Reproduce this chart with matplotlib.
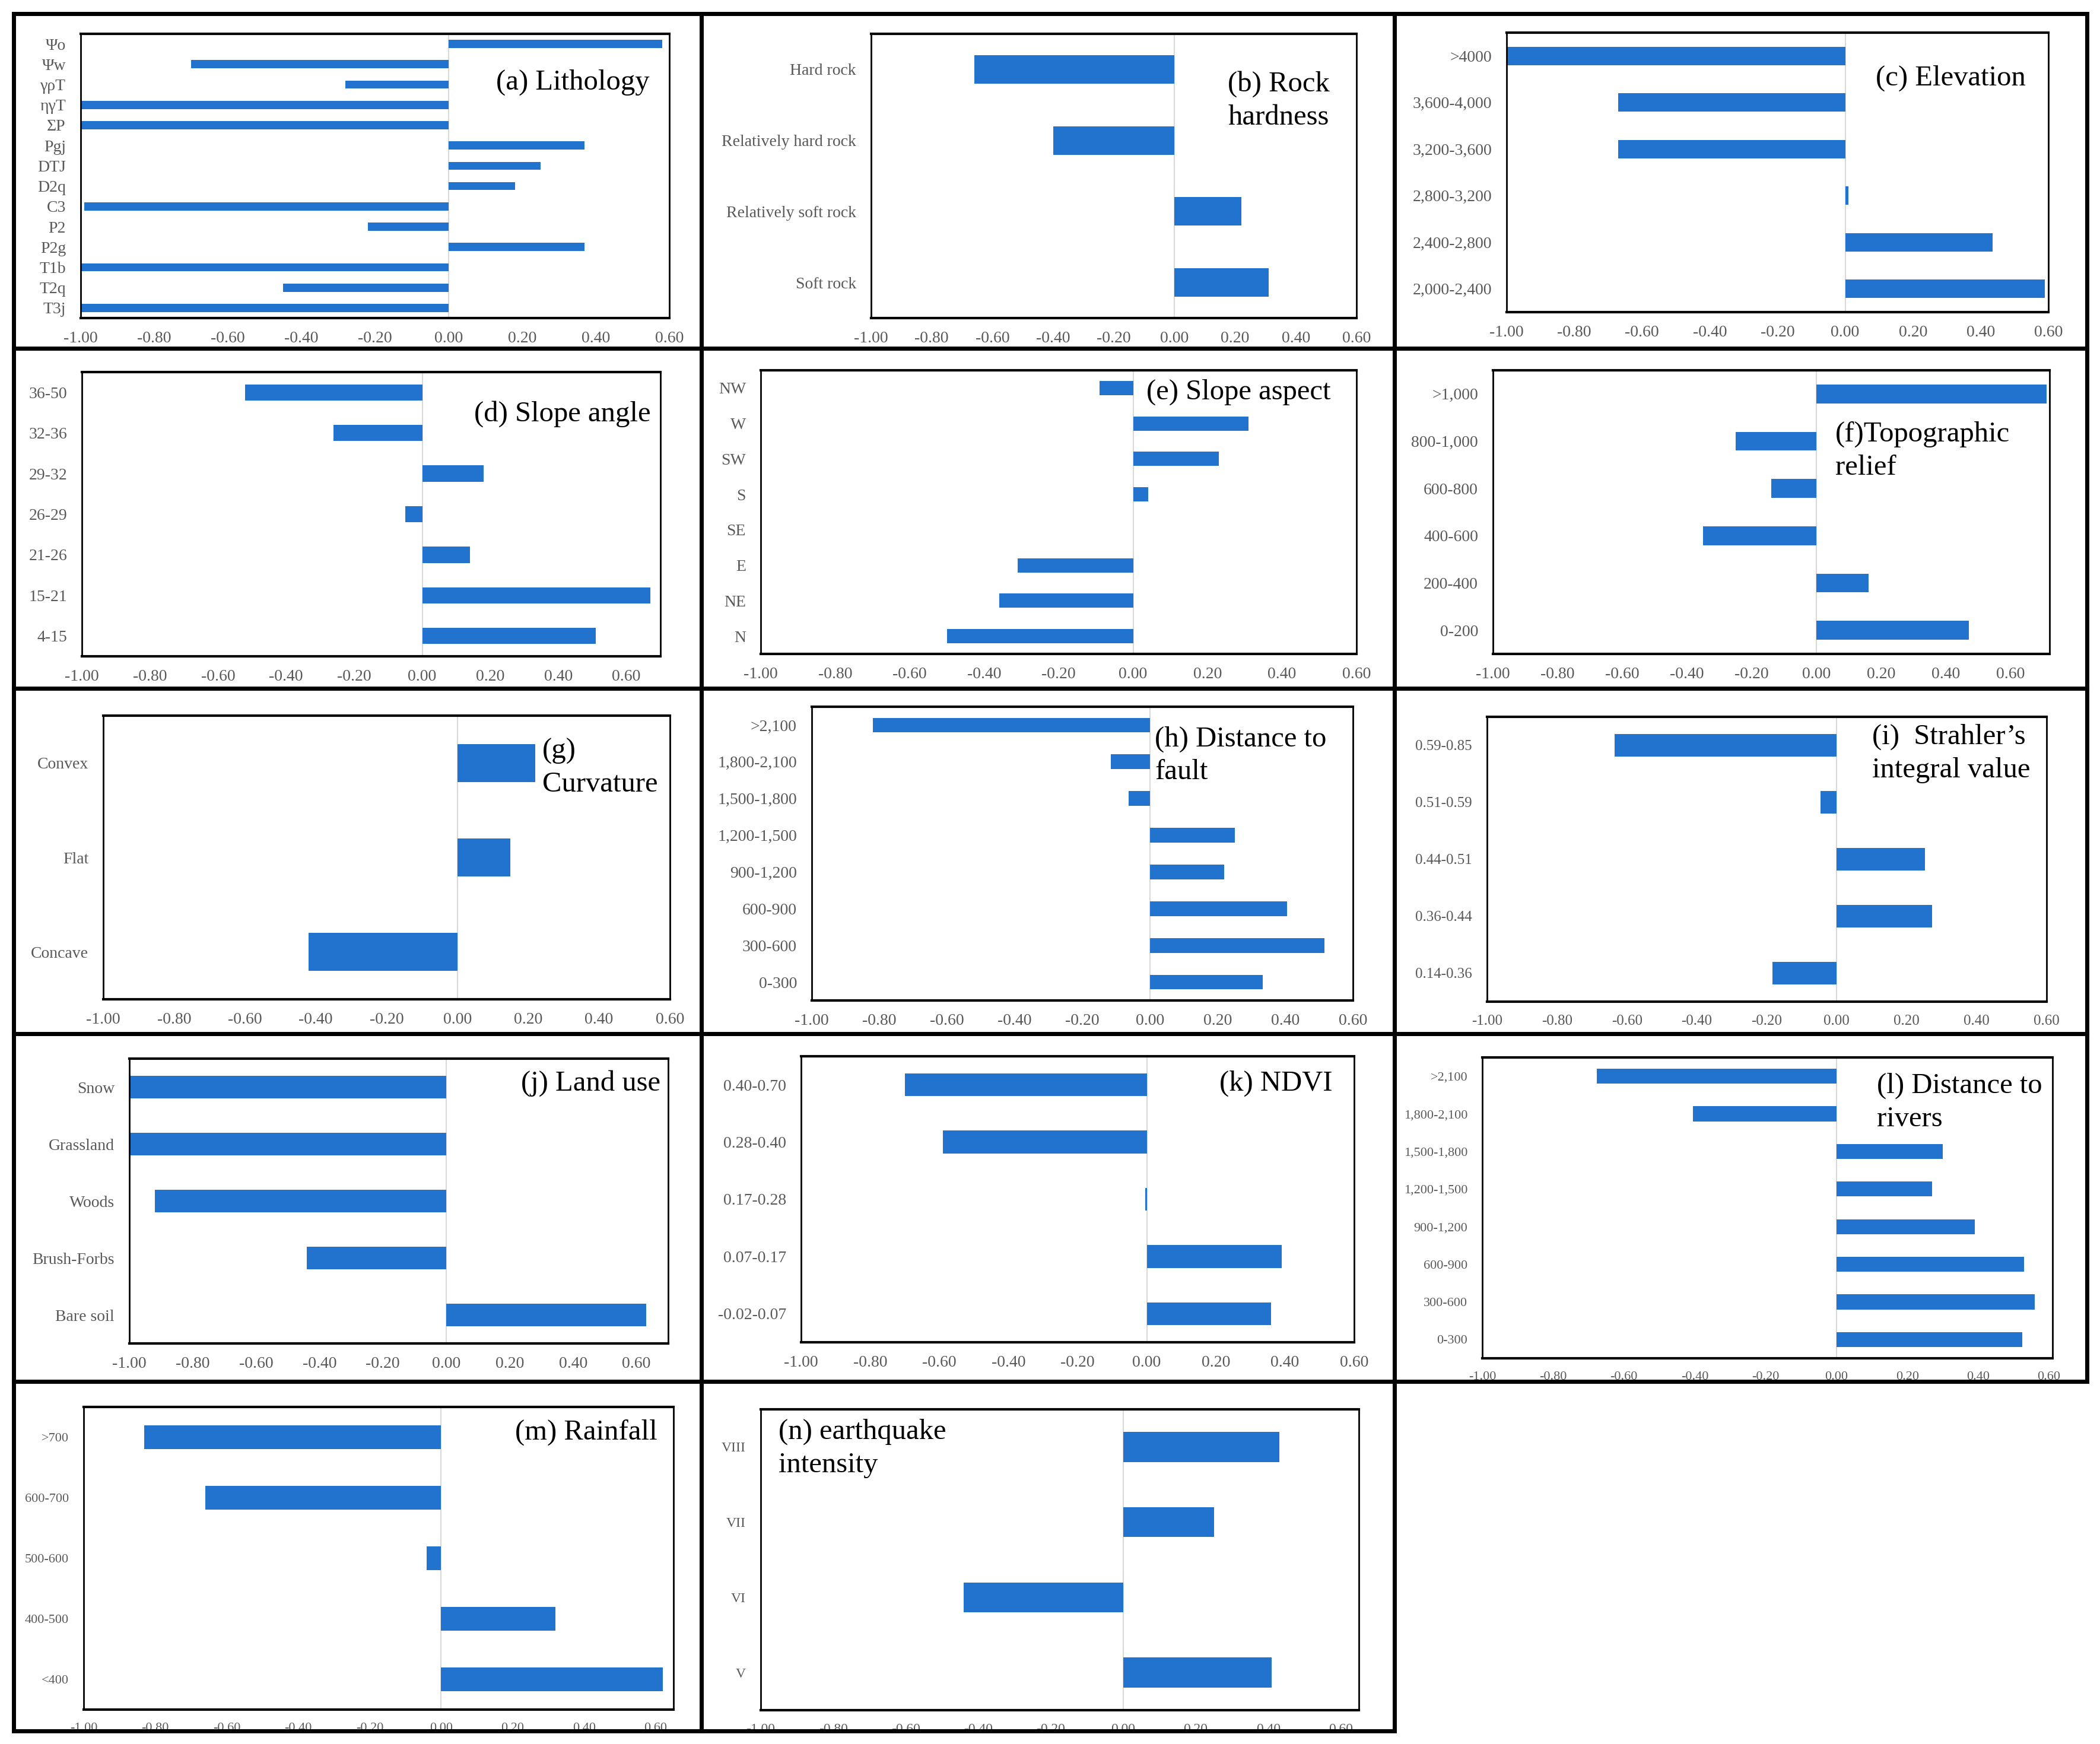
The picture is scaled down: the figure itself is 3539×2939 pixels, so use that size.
import matplotlib.pyplot as plt
from matplotlib.patches import Rectangle
import numpy as np

plt.rcParams['font.family'] = ['Liberation Serif', 'DejaVu Serif']

W, H = 3539, 2939
BLUE = '#2173CE'
TICK_GRAY = '#595959'

# (a) Lithology
lith_labels = ['Ψo', 'Ψw', 'γρT', 'ηγT', 'ΣP', 'Pgj', 'DTJ', 'D2q', 'C3', 'P2', 'P2g', 'T1b', 'T2q', 'T3j']
lith_values = [0.58, -0.70, -0.28, -1.00, -1.00, 0.37, 0.25, 0.18, -0.99, -0.22, 0.37, -1.00, -0.45, -1.00]

# (b) Rock hardness
hard_labels = ['Hard rock', 'Relatively hard rock', 'Relatively soft rock', 'Soft rock']
hard_values = [-0.66, -0.40, 0.22, 0.31]

# (c) Elevation
elev_labels = ['>4000', '3,600-4,000', '3,200-3,600', '2,800-3,200', '2,400-2,800', '2,000-2,400']
elev_values = [-1.00, -0.67, -0.67, 0.01, 0.435, 0.59]

# (d) Slope angle
slope_labels = ['36-50', '32-36', '29-32', '26-29', '21-26', '15-21', '4-15']
slope_values = [-0.52, -0.26, 0.18, -0.05, 0.14, 0.67, 0.51]

# (e) Slope aspect
aspect_labels = ['NW', 'W', 'SW', 'S', 'SE', 'E', 'NE', 'N']
aspect_values = [-0.09, 0.31, 0.23, 0.04, 0.0, -0.31, -0.36, -0.50]

# (f) Topographic relief
relief_labels = ['>1,000', '800-1,000', '600-800', '400-600', '200-400', '0-200']
relief_values = [0.71, -0.25, -0.14, -0.35, 0.16, 0.47]

# (g) Curvature
curv_labels = ['Convex', 'Flat', 'Concave']
curv_values = [0.22, 0.15, -0.42]

# (h) Distance to fault
fault_labels = ['>2,100', '1,800-2,100', '1,500-1,800', '1,200-1,500', '900-1,200', '600-900', '300-600', '0-300']
fault_values = [-0.82, -0.115, -0.063, 0.25, 0.22, 0.405, 0.515, 0.333]

# (i) Strahler's integral value
hi_labels = ['0.59-0.85', '0.51-0.59', '0.44-0.51', '0.36-0.44', '0.14-0.36']
hi_values = [-0.636, -0.046, 0.253, 0.272, -0.184]

# (j) Land use
land_labels = ['Snow', 'Grassland', 'Woods', 'Brush-Forbs', 'Bare soil']
land_values = [-1.00, -1.00, -0.92, -0.44, 0.63]

# (k) NDVI
ndvi_labels = ['0.40-0.70', '0.28-0.40', '0.17-0.28', '0.07-0.17', '-0.02-0.07']
ndvi_values = [-0.70, -0.59, -0.005, 0.39, 0.36]

# (l) Distance to rivers
river_labels = ['>2,100', '1,800-2,100', '1,500-1,800', '1,200-1,500', '900-1,200', '600-900', '300-600', '0-300']
river_values = [-0.676, -0.406, 0.30, 0.27, 0.39, 0.53, 0.56, 0.525]

# (m) Rainfall
rain_labels = ['>700', '600-700', '500-600', '400-500', '<400']
rain_values = [-0.83, -0.66, -0.04, 0.32, 0.62]

# (n) earthquake intensity
eq_labels = ['VIII', 'VII', 'VI', 'V']
eq_values = [0.43, 0.25, -0.44, 0.41]

x_ticks = [-1.0, -0.8, -0.6, -0.4, -0.2, 0.0, 0.2, 0.4, 0.6]

# outer frames (pixels)
col_edges = [23, 1182, 2350, 3517]
row_edges = [23, 587, 1160, 1742, 2328, 2917]

# panel: data, title, title pos, align, xmax, plot box in pixels (l, t, r, b), tick font size
panels = [
    (lith_labels, lith_values, '(a) Lithology', 0.966, 0.875, 'right', 0.6, (136, 57, 1128, 536), 20),
    (hard_labels, hard_values, '(b) Rock\nhardness', 0.84, 0.87, 'center', 0.6, (1468, 57, 2286, 536), 20),
    (elev_labels, elev_values, '(c) Elevation', 0.958, 0.885, 'right', 0.6, (2539, 55, 3452, 526), 20),
    (slope_labels, slope_values, '(d) Slope angle', 0.983, 0.9, 'right', 0.7, (138, 627, 1113, 1106), 20),
    (aspect_labels, aspect_values, '(e) Slope aspect', 0.647, 0.97, 'left', 0.6, (1282, 624, 2286, 1102), 20),
    (relief_labels, relief_values, '(f)Topographic\nrelief', 0.615, 0.82, 'left', 0.72, (2516, 624, 3454, 1102), 20),
    (curv_labels, curv_values, '(g)\nCurvature', 0.775, 0.92, 'left', 0.6, (174, 1206, 1129, 1684), 20),
    (fault_labels, fault_values, '(h) Distance to\nfault', 0.634, 0.935, 'left', 0.6, (1368, 1191, 2280, 1686), 20),
    (hi_labels, hi_values, '(i)  Strahler\u2019s\nintegral value', 0.688, 0.975, 'left', 0.6, (2506, 1208, 3449, 1688), 18),
    (land_labels, land_values, '(j) Land use', 0.986, 0.96, 'right', 0.7, (218, 1784, 1126, 2264), 20),
    (ndvi_labels, ndvi_values, '(k) NDVI', 0.961, 0.95, 'right', 0.6, (1350, 1780, 2282, 2262), 20),
    (river_labels, river_values, '(l) Distance to\nrivers', 0.692, 0.95, 'left', 0.61, (2498, 1782, 3459, 2289), 16),
    (rain_labels, rain_values, '(m) Rainfall', 0.973, 0.96, 'right', 0.65, (141, 2371, 1135, 2881), 16),
    (eq_labels, eq_values, '(n) earthquake\nintensity', 0.03, 0.97, 'left', 0.65, (1282, 2375, 2290, 2882), 17),
]


def px_rect(l, t, r, b):
    return [l / W, 1 - b / H, (r - l) / W, (b - t) / H]


def draw_panel(fig, labels, values, title, tx, ty, ha, xmax, box, fs):
    ax = fig.add_axes(px_rect(*box))
    y = np.arange(len(labels))
    ax.barh(y, values, height=0.4, color=BLUE, zorder=2)
    ax.axvline(0, color='#D9D9D9', lw=1.5, zorder=1)
    ax.set_xlim(-1.0, xmax)
    ax.set_ylim(len(labels) - 0.5, -0.5)
    ax.set_yticks(y)
    ax.set_yticklabels(labels)
    ax.set_xticks(x_ticks)
    ax.set_xticklabels(['%.2f' % t for t in x_ticks])
    ax.tick_params(axis='both', length=0, labelsize=fs, labelcolor=TICK_GRAY)
    ax.tick_params(axis='x', pad=16)
    ax.tick_params(axis='y', pad=18)
    for s in ['top', 'bottom']:
        ax.spines[s].set_linewidth(3)
    for s in ['left', 'right']:
        ax.spines[s].set_linewidth(2)
    ax.text(tx, ty, title, transform=ax.transAxes, ha=ha, va='top',
            multialignment=ha, fontsize=35, color='black', linespacing=1.35, zorder=3)
    return ax


fig = plt.figure(figsize=(W / 100, H / 100), dpi=100)

# panel frames
for r in range(5):
    ncols = 3 if r < 4 else 2
    for c in range(ncols):
        l, t = col_edges[c], row_edges[r]
        rr, b = col_edges[c + 1], row_edges[r + 1]
        fig.patches.append(Rectangle((l / W, 1 - b / H), (rr - l) / W, (b - t) / H,
                                     transform=fig.transFigure, fill=False,
                                     lw=5, ec='black', zorder=0))

for p in panels:
    draw_panel(fig, *p)

fig.savefig('out.png', dpi=100)
